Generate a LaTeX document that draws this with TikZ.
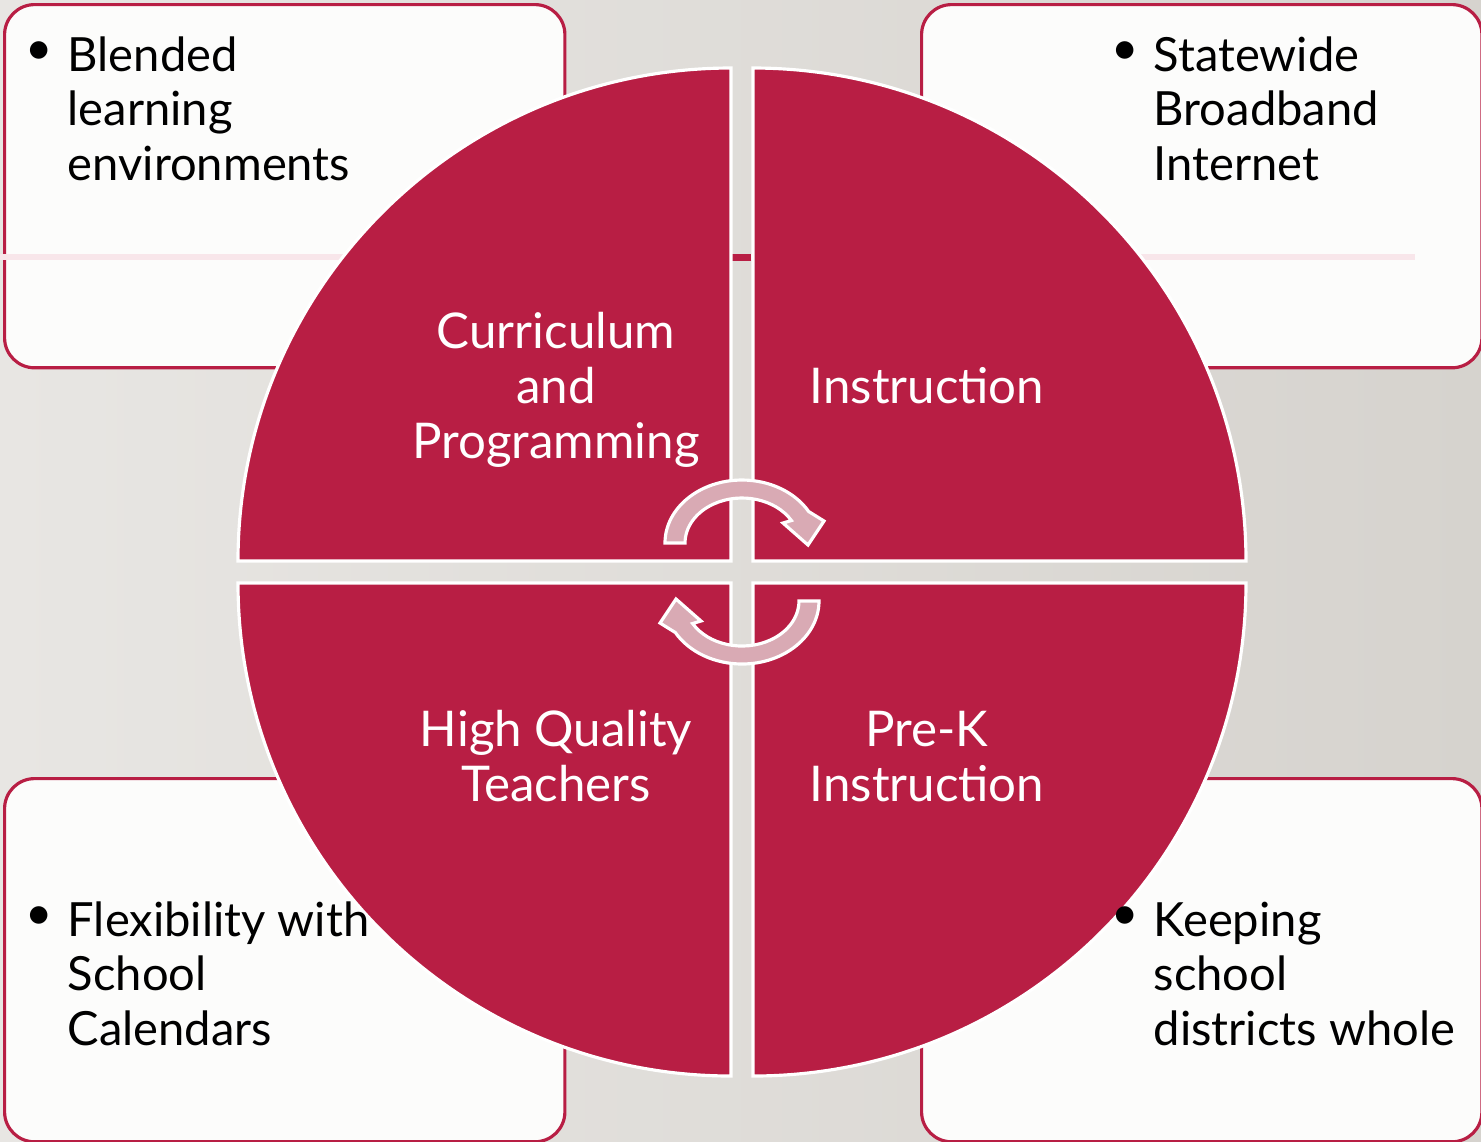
\documentclass[tikz,border=0pt]{standalone}
\usepackage{fontspec}
\setmainfont{Lato}
\usetikzlibrary{calc}

\definecolor{crimson}{RGB}{184,30,68}
\definecolor{paperL}{RGB}{232,230,227}
\definecolor{paperR}{RGB}{214,211,206}
\definecolor{cardfill}{RGB}{252,252,251}
\definecolor{arrowpink}{RGB}{217,170,180}
\definecolor{faintpink}{RGB}{248,230,234}

\tikzset{
  card/.style={draw=crimson, line width=0.9pt, fill=cardfill, rounded corners=0.3cm,
    minimum width=5.6cm, minimum height=3.63cm, inner sep=0pt, anchor=north west},
  quarter/.style={fill=crimson, draw=white, line width=0.9pt},
  turn/.style={fill=arrowpink, draw=white, line width=0.9pt},
  cardtext/.style={align=left, inner sep=0pt, anchor=base west,
    font=\fontsize{13.4}{15.4}\selectfont},
  quartertext/.style={align=center, inner sep=0pt, anchor=base, text=white,
    font=\fontsize{14}{15.6}\selectfont},
  dot/.style={inner sep=0pt, font=\fontsize{13.4}{15.4}\selectfont}
}

\begin{document}
\begin{tikzpicture}[x=0.01cm, y=-0.01cm]
    \useasboundingbox (0,0) rectangle (1481,1141);
    \shade[left color=paperL, right color=paperR] (0,0) rectangle (1481,1141);

    % the four cards
    \node[card] (cardTL) at (3,3) {};
    \node[card] (cardTR) at (920,3) {};
    \node[card] (cardBL) at (3,777) {};
    \node[card] (cardBR) at (920,777) {};

    \draw[faintpink, line width=0.06cm] (0,257) -- (1415,257);
    \fill[crimson] (732,254) rectangle (751,261);

    % the circle, cut in four
    \coordinate (O) at (742,572);
    \draw[quarter] (731,561) -- (238,561) arc[start angle=180, end angle=270, radius=493] -- cycle;
    \draw[quarter] (753,561) -- (753,68) arc[start angle=270, end angle=360, radius=493] -- cycle;
    \draw[quarter] (753,583) -- (1246,583) arc[start angle=0, end angle=90, radius=493] -- cycle;
    \draw[quarter] (731,583) -- (731,1076) arc[start angle=90, end angle=180, radius=493] -- cycle;

    % turning arrows
    \foreach \ang in {0,180}{
      \begin{scope}[rotate around={\ang:(O)}]
        \draw[turn] (665,543) arc[start angle=180, end angle=330, x radius=77, y radius=63]
          -- (824,521) -- (808,545) -- (783,523) -- (791.4,520.5)
          arc[start angle=330, end angle=180, x radius=57, y radius=45] -- cycle;
      \end{scope}
    }

    % base of a node with lines = baseline of its last line
    \node[quartertext] (curr) at (556,458) {Curriculum\\and\\Programming};
    \node[quartertext] (instr) at (927,403) {Instruction};
    \node[quartertext] (teach) at (556,801) {High Quality\\Teachers};
    \node[quartertext] (prek) at (927,801) {Pre-K\\Instruction};

    \node[cardtext] (txtTL) at (67,180) {Blended\\learning\\environments};
    \node[cardtext] (txtTR) at (1153,180) {Statewide\\Broadband\\Internet};
    \node[cardtext] (txtBL) at (67,1045) {Flexibility with\\School\\Calendars};
    \node[cardtext] (txtBR) at (1153,1045) {Keeping\\school\\districts whole};

    \node[dot] (dotTL) at (39,53) {\textbullet};
    \node[dot] (dotTR) at (1125,53) {\textbullet};
    \node[dot] (dotBL) at (39,918) {\textbullet};
    \node[dot] (dotBR) at (1125,918) {\textbullet};
\end{tikzpicture}
\end{document}
